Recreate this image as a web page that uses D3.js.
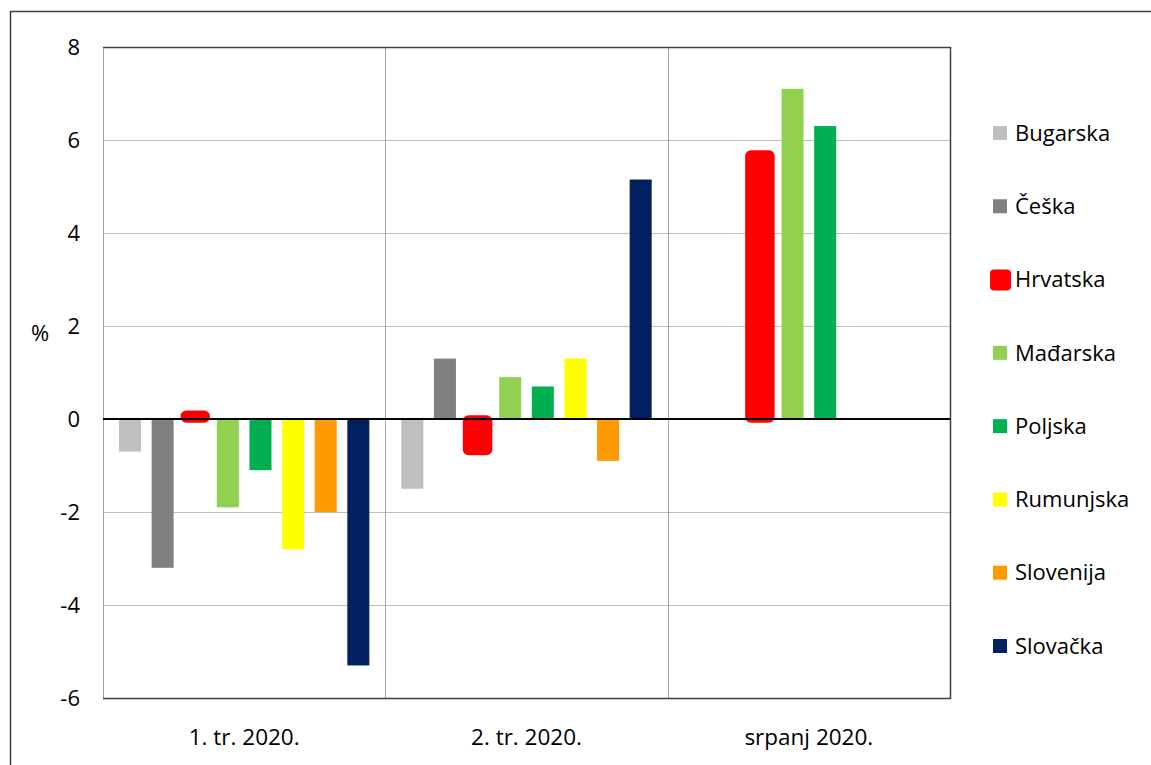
<!DOCTYPE html>
<html>
<head>
<meta charset="utf-8">
<style>
  body { margin: 0; background: #fff; }
  svg { display: block; }
  text { font-family: "Open Sans", sans-serif; fill: #000; }
</style>
</head>
<body>
<svg id="chart"></svg>
<script src="https://d3js.org/d3.v7.min.js"></script>
<script>
// categories and series
var categories = ["1. tr. 2020.", "2. tr. 2020.", "srpanj 2020."];
var countries = ["Bugarska", "Češka", "Hrvatska", "Mađarska", "Poljska", "Rumunjska", "Slovenija", "Slovačka"];
var colors = ["#bfbfbf", "#808080", "#ff0000", "#92d050", "#00b050", "#ffff00", "#ff9900", "#002060"];

var bugarska  = [-0.7, -1.5, null];
var ceska     = [-3.2,  1.3, null];
var hrvatska  = [ 0.1, -0.7,  5.7];
var madarska  = [-1.9,  0.9,  7.1];
var poljska   = [-1.1,  0.7,  6.3];
var rumunjska = [-2.8,  1.3, null];
var slovenija = [-2.0, -0.9, null];
var slovacka  = [-5.3,  5.15, null];

var seriesValues = [bugarska, ceska, hrvatska, madarska, poljska, rumunjska, slovenija, slovacka];
var yTicks = [-6, -4, -2, 0, 2, 4, 6, 8];

var width = 1151, height = 765;
var margins = {top: 47, left: 103, right: 201, bottom: 67};
var plotW = width - margins.left - margins.right;
var plotH = height - margins.top - margins.bottom;

var svg = d3.select("#chart")
    .attr("width", width)
    .attr("height", height);

// outer frame
svg.append("rect")
    .attr("x", 10.5)
    .attr("y", 11.5)
    .attr("width", 1200)
    .attr("height", 800)
    .attr("fill", "none")
    .attr("stroke", "#404040")
    .attr("stroke-width", 1.5);

var g = svg.append("g")
    .attr("transform", "translate(" + margins.left + "," + margins.top + ")");

var x0 = d3.scaleBand()
    .domain(categories)
    .range([0, plotW]);

var x1 = d3.scaleBand()
    .domain(countries)
    .range([0, x0.bandwidth()])
    .paddingInner(0.325)
    .paddingOuter(0.49);

var yScale = d3.scaleLinear()
    .domain([-6, 8])
    .range([plotH, 0]);

// horizontal grid
g.append("g")
    .selectAll("line")
    .data(yTicks)
    .enter()
    .append("line")
    .attr("x1", 0)
    .attr("x2", plotW)
    .attr("y1", function(d) { return Math.round(yScale(d)) + 0.5; })
    .attr("y2", function(d) { return Math.round(yScale(d)) + 0.5; })
    .attr("stroke", "#bfbfbf")
    .attr("stroke-width", 1);

// category separators
g.append("g")
    .selectAll("line")
    .data(categories.slice(1))
    .enter()
    .append("line")
    .attr("x1", function(d) { return Math.round(x0(d)) + 0.5; })
    .attr("x2", function(d) { return Math.round(x0(d)) + 0.5; })
    .attr("y1", 0)
    .attr("y2", plotH)
    .attr("stroke", "#a6a6a6")
    .attr("stroke-width", 1);

// plot border
g.append("line")
    .attr("x1", 0.5).attr("x2", 0.5)
    .attr("y1", 0).attr("y2", plotH)
    .attr("stroke", "#a6a6a6");
g.append("path")
    .attr("d", "M0," + 0.5 + "H" + (plotW + 0.5) + "V" + (plotH + 0.5) + "H0")
    .attr("fill", "none")
    .attr("stroke", "#404040")
    .attr("stroke-width", 1.5);

// bars
var groups = g.selectAll(".grp")
    .data(categories)
    .enter()
    .append("g")
    .classed("grp", true)
    .attr("transform", function(d) { return "translate(" + x0(d) + ",0)"; });

groups.selectAll("rect")
    .data(function(cat, ci) {
        return countries.map(function(c, si) {
            return {country: c, value: seriesValues[si][ci], color: colors[si]};
        }).filter(function(d) { return d.value !== null; });
    })
    .enter()
    .append("rect")
    .attr("x", function(d) { return x1(d.country); })
    .attr("y", function(d) { return yScale(Math.max(0, d.value)); })
    .attr("width", x1.bandwidth())
    .attr("height", function(d) { return Math.abs(yScale(d.value) - yScale(0)); })
    .attr("fill", function(d) { return d.color; })
    .attr("stroke", function(d) { return d.country == "Hrvatska" ? "#ff0000" : "none"; })
    .attr("stroke-width", function(d) { return d.country == "Hrvatska" ? 7.5 : 0; })
    .attr("stroke-linejoin", "round")
    .attr("rx", function(d) { return d.country == "Hrvatska" ? 2 : 0; });

// zero line
g.append("line")
    .attr("x1", 0)
    .attr("x2", plotW)
    .attr("y1", yScale(0))
    .attr("y2", yScale(0))
    .attr("stroke", "#000")
    .attr("stroke-width", 2);

// y tick labels
g.append("g")
    .selectAll("text")
    .data(yTicks)
    .enter()
    .append("text")
    .attr("x", -23)
    .attr("y", function(d) { return yScale(d); })
    .attr("dy", "0.35em")
    .attr("text-anchor", "end")
    .style("font-size", "22px")
    .text(function(d) { return d; });

// y label
svg.append("text")
    .attr("x", 40)
    .attr("y", 333)
    .attr("dy", "0.35em")
    .attr("text-anchor", "middle")
    .style("font-size", "22px")
    .text("%");

// x labels
g.append("g")
    .selectAll("text")
    .data(categories)
    .enter()
    .append("text")
    .attr("x", function(d) { return x0(d) + x0.bandwidth() / 2; })
    .attr("y", plotH + 39)
    .attr("dy", "0.35em")
    .attr("text-anchor", "middle")
    .style("font-size", "22.5px")
    .text(function(d) { return d; });

// legend
var legendY = d3.scalePoint()
    .domain(countries)
    .range([133, 646]);

var legend = svg.append("g")
    .selectAll("g")
    .data(countries)
    .enter()
    .append("g")
    .attr("transform", function(d) { return "translate(993," + legendY(d) + ")"; });

legend.append("rect")
    .attr("x", function(d) { return d == "Hrvatska" ? -3 : 0; })
    .attr("y", function(d) { return d == "Hrvatska" ? -10 : -7; })
    .attr("width", function(d) { return d == "Hrvatska" ? 21 : 14; })
    .attr("height", function(d) { return d == "Hrvatska" ? 21 : 14; })
    .attr("rx", function(d) { return d == "Hrvatska" ? 4 : 0; })
    .attr("fill", function(d, i) { return colors[i]; });

legend.append("text")
    .attr("x", 22)
    .attr("y", 0)
    .attr("dy", "0.35em")
    .style("font-size", "22px")
    .text(function(d) { return d; });
</script>
</body>
</html>
